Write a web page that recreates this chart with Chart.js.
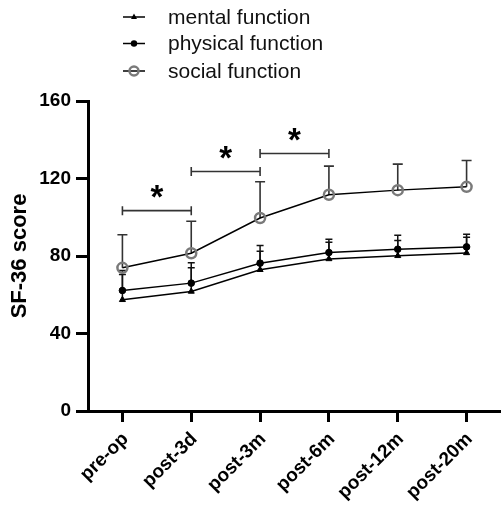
<!DOCTYPE html>
<html><head><meta charset="utf-8">
<script src="https://cdn.jsdelivr.net/npm/chart.js@4/dist/chart.umd.min.js"></script>
<style>html,body{margin:0;padding:0;background:#fff}#wrap{width:501px;height:508px;position:relative}</style>
</head><body><div id="wrap"><canvas id="c"></canvas></div>
<script>
const categories = ['pre-op','post-3d','post-3m','post-6m','post-12m','post-20m'];
const seriesNames = ['mental function','physical function','social function'];
const mentalMean = [57.4,61.7,72.9,78.5,80.1,81.6];
const mentalSD = [13.1,12.2,9.6,8.6,7.9,8.1];
const physicalMean = [62.2,66.0,76.3,81.8,83.5,84.7];
const physicalSD = [10.3,10.5,9.1,6.8,7.2,6.5];
const socialMean = [73.9,81.4,99.6,111.6,114.0,115.7];
const socialSD = [17.1,16.5,18.7,14.8,13.4,13.6];
const yTicks = [0,40,80,120,160];
const sigFrom = [0,1,2];
const sigTo = [1,2,3];
const sigLevel = [103.4,123.6,132.9];
const sigLabel = ['*','*','*'];

const errorBars = {
  id:'errorBars',
  beforeDatasetsDraw(chart){
    const ctx=chart.ctx, y=chart.scales.y;
    chart.data.datasets.forEach((ds,i)=>{
      const meta=chart.getDatasetMeta(i);
      ctx.save(); ctx.strokeStyle=ds.errColor; ctx.lineWidth=ds.errWidth;
      meta.data.forEach((pt,j)=>{
        const top=y.getPixelForValue(ds.data[j]+ds.errors[j]);
        ctx.beginPath(); ctx.moveTo(pt.x,pt.y); ctx.lineTo(pt.x,top);
        ctx.moveTo(pt.x-ds.capW/2,top); ctx.lineTo(pt.x+ds.capW/2,top); ctx.stroke();
      });
      ctx.restore();
    });
  }
};

const sigPlugin = {
  id:'sig',
  afterDatasetsDraw(chart){
    const ctx=chart.ctx, x=chart.scales.x, y=chart.scales.y;
    ctx.save();
    sigFrom.forEach((f,i)=>{
      const x1=x.getPixelForValue(f), x2=x.getPixelForValue(sigTo[i]);
      const py=y.getPixelForValue(sigLevel[i]);
      ctx.strokeStyle='#333'; ctx.lineWidth=1.6;
      ctx.beginPath(); ctx.moveTo(x1,py); ctx.lineTo(x2,py);
      ctx.moveTo(x1,py-4.5); ctx.lineTo(x1,py+4.5);
      ctx.moveTo(x2,py-4.5); ctx.lineTo(x2,py+4.5); ctx.stroke();
      ctx.fillStyle='#000'; ctx.font='bold 33px "Liberation Sans", Arial, sans-serif';
      ctx.textAlign='center'; ctx.textBaseline='alphabetic';
      ctx.fillText(sigLabel[i],(x1+x2)/2,py-3);
    });
    ctx.restore();
  }
};

const legendPlugin = {
  id:'customLegend',
  afterDraw(chart){
    const ctx=chart.ctx;
    const rows=[17,43.5,71];
    ctx.save();
    chart.data.datasets.forEach((ds,i)=>{
      const cy=rows[i];
      ctx.strokeStyle='#000'; ctx.lineWidth=1.5;
      ctx.beginPath(); ctx.moveTo(123,cy); ctx.lineTo(145,cy); ctx.stroke();
      const cx=134;
      if(ds.pointStyle==='triangle'){
        ctx.fillStyle='#000'; ctx.beginPath();
        ctx.moveTo(cx,cy-3.5); ctx.lineTo(cx+3,cy+2); ctx.lineTo(cx-3,cy+2); ctx.closePath(); ctx.fill();
      } else if(ds.pointBorderColor==='#000'){
        ctx.fillStyle='#000'; ctx.beginPath(); ctx.arc(cx,cy,3.2,0,Math.PI*2); ctx.fill();
      } else {
        ctx.strokeStyle=ds.pointBorderColor; ctx.lineWidth=2.5;
        ctx.beginPath(); ctx.arc(cx,cy,4.5,0,Math.PI*2); ctx.stroke();
      }
      ctx.fillStyle='#111'; ctx.font='21px "Liberation Sans", Arial, sans-serif';
      ctx.textAlign='left'; ctx.textBaseline='middle';
      ctx.fillText(ds.label,168,cy+1);
    });
    ctx.restore();
  }
};

const datasets = [
  {label:seriesNames[0], data:mentalMean, errors:mentalSD, borderColor:'#000', borderWidth:1.5,
   pointStyle:'triangle', pointRadius:3.5, pointBackgroundColor:'#000', pointBorderColor:'#000', pointBorderWidth:1,
   errColor:'#111', errWidth:1.5, capW:7},
  {label:seriesNames[1], data:physicalMean, errors:physicalSD, borderColor:'#000', borderWidth:1.5,
   pointStyle:'circle', pointRadius:3.3, pointBackgroundColor:'#000', pointBorderColor:'#000', pointBorderWidth:1,
   errColor:'#111', errWidth:1.5, capW:7},
  {label:seriesNames[2], data:socialMean, errors:socialSD, borderColor:'#000', borderWidth:1.5,
   pointStyle:'circle', pointRadius:5, pointBackgroundColor:'rgba(255,255,255,0)', pointBorderColor:'#7a7a7a', pointBorderWidth:2.5,
   errColor:'#333', errWidth:1.6, capW:10}
];

new Chart(document.getElementById('c'), {
  type:'line',
  data:{labels:categories, datasets},
  options:{
    responsive:true, maintainAspectRatio:false, animation:false,
    layout:{autoPadding:false, padding:{top:101,left:0,right:0,bottom:0}},
    plugins:{legend:{display:false}, tooltip:{enabled:false}},
    elements:{line:{tension:0}},
    scales:{
      x:{
        offset:true,
        grid:{display:true, drawOnChartArea:false, color:'#000', lineWidth:3, tickLength:11, offset:false},
        border:{display:true, color:'#000', width:3},
        ticks:{color:'#000', font:{family:'"Liberation Sans", Arial, sans-serif', size:19, weight:'bold'}, maxRotation:45, minRotation:45, padding:6, labelOffset:3},
        afterFit(s){ s.height=97; s.paddingRight=0; s.paddingLeft=0; }
      },
      y:{
        min:0, max:160,
        afterBuildTicks(s){ s.ticks=yTicks.map(v=>({value:v})); },
        grid:{display:true, drawOnChartArea:false, color:'#000', lineWidth:3, tickLength:12},
        border:{display:true, color:'#000', width:3},
        ticks:{color:'#000', font:{family:'"Liberation Sans", Arial, sans-serif', size:19, weight:'bold'}, padding:5},
        title:{display:true, text:'SF-36 score', color:'#000', font:{family:'"Liberation Sans", Arial, sans-serif', size:22, weight:'bold'}, padding:{top:7,bottom:0}},
        afterFit(s){ s.width=88; }
      }
    }
  },
  plugins:[errorBars, sigPlugin, legendPlugin]
});
</script></body></html>
